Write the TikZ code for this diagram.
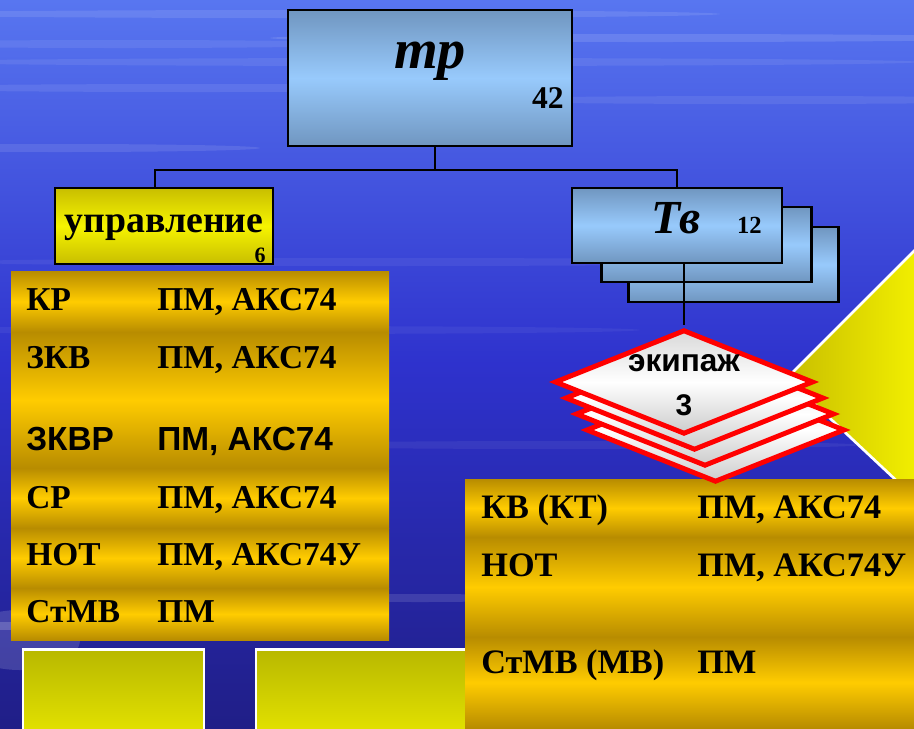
\documentclass[tikz,border=0pt]{standalone}
\usepackage{fontspec}
\setmainfont{Liberation Serif}
\setsansfont{Liberation Sans}
\usetikzlibrary{positioning,shapes.geometric}

\definecolor{bgtop}{RGB}{88,118,240}
\definecolor{bgmid}{RGB}{46,50,205}
\definecolor{bgbot}{RGB}{32,30,135}
\definecolor{boxedge}{RGB}{112,150,192}
\definecolor{boxmid}{RGB}{152,202,252}
\definecolor{yeldark}{RGB}{200,190,0}
\definecolor{yellight}{RGB}{246,244,0}
\definecolor{yelolive}{RGB}{184,184,0}
\definecolor{golddark}{RGB}{184,140,0}
\definecolor{goldlight}{RGB}{255,204,0}
\definecolor{crewred}{RGB}{255,0,0}

\begin{document}
\begin{tikzpicture}[
    x=0.02cm, y=-0.02cm,
    unitbox/.style={rectangle, draw=black, line width=1.4pt, top color=boxedge, bottom color=boxedge, middle color=boxmid, inner sep=0pt},
    hqbox/.style={rectangle, draw=black, line width=1.4pt, top color=yeldark, bottom color=yeldark, middle color=yellight, inner sep=0pt},
    crewbox/.style={diamond, draw=crewred, line width=2.8pt, top color=gray!30, bottom color=gray!40, middle color=white, inner sep=0pt, minimum width=5.18cm, minimum height=2.09cm},
    goldband/.style={top color=golddark, bottom color=golddark, middle color=goldlight},
    cell/.style={anchor=base west, inner sep=0pt, font=\fontsize{19}{22}\selectfont\bfseries},
    num/.style={anchor=base east, inner sep=0pt},
    conn/.style={draw=black, line width=1.1pt}
  ]
  \useasboundingbox (0,0) rectangle (914,728);
  \clip (0,0) rectangle (914,728);

  % background
  \fill[top color=bgtop, bottom color=bgbot, middle color=bgmid] (0,0) rectangle (914,728);
  \foreach \y/\x/\w/\o in {14/300/420/.1, 38/650/380/.12, 44/120/260/.08, 62/420/500/.08, 88/200/330/.09,
                           100/760/300/.08, 148/60/200/.1, 262/380/420/.06, 330/260/380/.05, 445/560/300/.06,
                           598/420/120/.12, 626/30/90/.18}
    \fill[white, opacity=\o] (\x,\y) ellipse ({\w} and 4);
  \fill[white, opacity=.15] (20,640) ellipse (60 and 30);

  % yellow shapes behind
  \draw[white, line width=1.5pt, left color=yeldark, right color=yellight] (930,235) -- (787,378) -- (930,512) -- cycle;
  \draw[white, line width=1.7pt, top color=yelolive, bottom color=yellight] (23,649) rectangle (204,770);
  \draw[white, line width=1.7pt, top color=yelolive, bottom color=yellight] (256,649) rectangle (480,770);

  % tables
  \foreach \a/\b in {271/332, 332/468, 468/528, 528/588, 588/640}
    \fill[goldband] (11,\a) rectangle (389,\b);
  \foreach \a/\b in {479/537, 537/637, 637/728}
    \fill[goldband] (465,\a) rectangle (914,\b);

  \foreach \y/\rank/\arms [count=\i] in {310/КР/{ПМ, АКС74}, 368/ЗКВ/{ПМ, АКС74}, 508/СР/{ПМ, АКС74},
                                          565/НОТ/{ПМ, АКС74У}, 622/СтМВ/ПМ} {
    \node[cell] (lrank\i) at (26,\y) {\rank};
    \node[cell] (larms\i) at (157,\y) {\arms};
  }
  \node[cell, font=\fontsize{19}{22}\selectfont\sffamily\bfseries] (lrankS) at (26,450) {ЗКВР};
  \node[cell, font=\fontsize{19}{22}\selectfont\sffamily\bfseries] (larmsS) at (157,450) {ПМ, АКС74};

  \foreach \y/\rank/\arms [count=\i] in {518/КВ (КТ)/{ПМ, АКС74}, 576/НОТ/{ПМ, АКС74У}, 673/СтМВ (МВ)/ПМ} {
    \node[cell, font=\fontsize{19.5}{22}\selectfont\bfseries] (rrank\i) at (481,\y) {\rank};
    \node[cell, font=\fontsize{19.5}{22}\selectfont\bfseries] (rarms\i) at (697,\y) {\arms};
  }

  % boxes
  \node[unitbox, minimum width=5.68cm, minimum height=2.72cm] (tr) at (430,78) {};
  \node[hqbox, minimum width=4.36cm, minimum height=1.52cm] (upr) at (164,226) {};
  \node[unitbox, minimum width=4.2cm, minimum height=1.5cm] (tv3) at (733.5,264.5) {};
  \node[unitbox, minimum width=4.2cm, minimum height=1.5cm] (tv2) at (706.5,244.5) {};
  \node[unitbox, minimum width=4.2cm, minimum height=1.5cm] (tv) at (677,225.5) {};

  \node[anchor=base, inner sep=0pt, font=\fontsize{32}{36}\selectfont\bfseries\itshape] (trname) at (430,68) {тр};
  \node[num, font=\fontsize{18}{20}\selectfont\bfseries] (trnum) at (564,108) {42};
  \node[anchor=base, inner sep=0pt, font=\fontsize{21.5}{24}\selectfont\bfseries] (uprname) at (164,232) {управление};
  \node[num, font=\fontsize{12.5}{14}\selectfont\bfseries] (uprnum) at (266,262) {6};
  \node[anchor=base, inner sep=0pt, font=\fontsize{27}{30}\selectfont\bfseries\itshape] (tvname) at (676,233) {Тв};
  \node[num, font=\fontsize{14}{16}\selectfont\bfseries] (tvnum) at (762,233) {12};

  % crews
  \foreach \i in {3,2,1}
    \node[crewbox] (ek\i) at (684+\i*10.5, 382+\i*16) {};
  \node[crewbox] (ek) at (684,382) {};
  \node[anchor=base, inner sep=0pt, font=\fontsize{18}{20}\selectfont\sffamily\bfseries] (ekname) at (684,371) {экипаж};
  \node[anchor=base, inner sep=0pt, font=\fontsize{17}{20}\selectfont\sffamily\bfseries] (eknum) at (684,415) {3};

  % connectors
  \coordinate (hub) at (435,170);
  \draw[conn] (tr.south -| hub) -- (hub);
  \draw[conn] ([xshift=-0.18cm]upr.north) |- (hub) -| (tv.north);
  \draw[conn] (ek.north |- tv.south) -- ([yshift=1.5pt]ek.north);
\end{tikzpicture}
\end{document}
